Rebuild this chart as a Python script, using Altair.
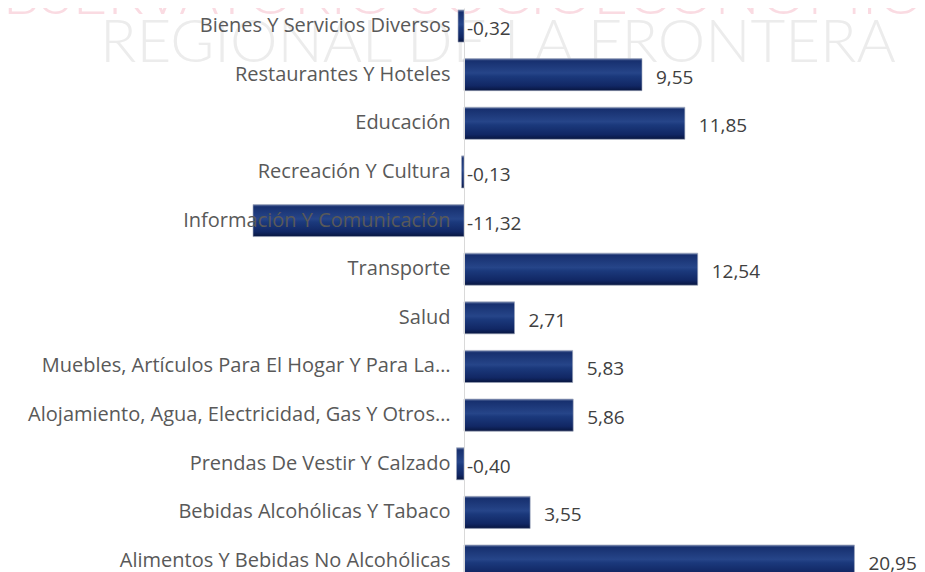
import altair as alt
import pandas as pd

categories = [
    "Bienes Y Servicios Diversos",
    "Restaurantes Y Hoteles",
    "Educación",
    "Recreación Y Cultura",
    "Información Y Comunicación",
    "Transporte",
    "Salud",
    "Muebles, Artículos Para El Hogar Y Para La…",
    "Alojamiento, Agua, Electricidad, Gas Y Otros…",
    "Prendas De Vestir Y Calzado",
    "Bebidas Alcohólicas Y Tabaco",
    "Alimentos Y Bebidas No Alcohólicas",
]
values = [-0.32, 9.55, 11.85, -0.13, -11.32, 12.54, 2.71, 5.83, 5.86, -0.40, 3.55, 20.95]

df = pd.DataFrame({"cat": categories, "val": values})
df["label"] = [f"{v:.2f}".replace(".", ",") for v in values]
df["lx"] = df["val"].clip(lower=0)

wm = pd.DataFrame({"t": ["OBSERVATORIO SOCIOECONÓMICO", "REGIONAL DE LA FRONTERA"]})

FONT = "Open Sans"

grad = alt.Gradient(
    gradient="linear", x1=0, y1=0, x2=0, y2=1,
    stops=[
        alt.GradientStop(offset=0.0, color="#6f80aa"),
        alt.GradientStop(offset=0.07, color="#17306f"),
        alt.GradientStop(offset=0.45, color="#264589"),
        alt.GradientStop(offset=0.55, color="#1b397c"),
        alt.GradientStop(offset=0.85, color="#112764"),
        alt.GradientStop(offset=1.0, color="#081640"),
    ],
)

y_enc = alt.Y(
    "cat:N", sort=categories, title=None,
    scale=alt.Scale(paddingInner=0.34, paddingOuter=0.04),
    axis=alt.Axis(
        ticks=False, labelFont=FONT, labelFontSize=20, labelColor="#595959",
        labelPadding=14, labelLimit=600, domainColor="#d9d9d9", domainWidth=1,
        zindex=1,
    ),
)
x_enc = alt.X("val:Q", scale=alt.Scale(domain=[0, 22], nice=False, zero=False), axis=None)

wm1 = alt.Chart(wm[wm.t.str.startswith("OBS")]).mark_text(
    font="Lato", fontWeight=300, fontSize=60, color="#fadbe2", align="left", baseline="alphabetic"
).encode(text="t:N", x=alt.value(-509), y=alt.value(6))
wm2 = alt.Chart(wm[wm.t.str.startswith("REG")]).mark_text(
    font="Lato", fontWeight=300, fontSize=60, color="#ececec", align="left", baseline="alphabetic"
).encode(text="t:N", x=alt.value(-364), y=alt.value(54))

bars = alt.Chart(df).mark_bar(color=grad, stroke="#9aa3b8", strokeWidth=0.6).encode(
    y=y_enc, x=x_enc, x2=alt.datum(0)
)

lab_pos = alt.Chart(df[df.val >= 0]).mark_text(
    font=FONT, fontSize=19, color="#404040", align="left", dx=14, dy=3
).encode(y=alt.Y("cat:N", sort=categories), x="lx:Q", text="label:N")

lab_neg = alt.Chart(df[df.val < 0]).mark_text(
    font=FONT, fontSize=19, color="#404040", align="left", dx=3, dy=3
).encode(y=alt.Y("cat:N", sort=categories), x="lx:Q", text="label:N")

chart = alt.layer(wm1, wm2, bars, lab_pos, lab_neg).properties(
    width=410, height=571,
    background="white",
    autosize=alt.AutoSizeParams(type="none"),
    padding={"left": 456, "top": 0, "right": 43, "bottom": 0},
).configure_view(stroke=None)

chart.save("out.html", embed_options={"renderer": "svg", "actions": False})
